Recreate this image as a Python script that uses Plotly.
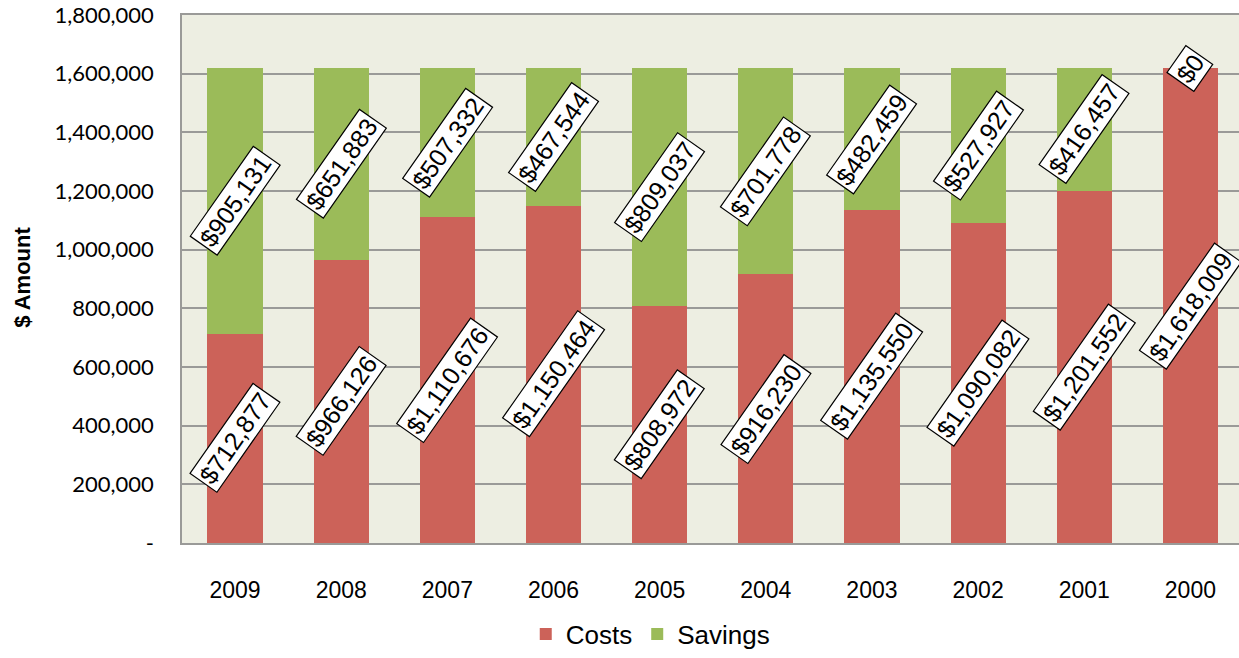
import plotly.graph_objects as go

# Yearly cost / savings split (USD)
years = ["2009", "2008", "2007", "2006", "2005", "2004", "2003", "2002", "2001", "2000"]
costs = [712877, 966126, 1110676, 1150464, 808972, 916230, 1135550, 1090082, 1201552, 1618009]
savings = [905131, 651883, 507332, 467544, 809037, 701778, 482459, 527927, 416457, 0]

y_tick_vals = [0, 200000, 400000, 600000, 800000, 1000000, 1200000, 1400000, 1600000, 1800000]
y_tick_text = ["-", "200,000", "400,000", "600,000", "800,000", "1,000,000",
               "1,200,000", "1,400,000", "1,600,000", "1,800,000"]

COST_COLOR = "#CC6259"
SAVE_COLOR = "#9BBB59"
GRID = "#9a9a98"
LABEL_FONT = dict(family="Liberation Sans, Arial, sans-serif", size=25, color="#000000")

fig = go.Figure()
fig.add_trace(go.Bar(x=years, y=costs, name="Costs", marker=dict(color=COST_COLOR, line=dict(width=0)),
                     width=0.52, hoverinfo="x+y"))
fig.add_trace(go.Bar(x=years, y=savings, name="Savings", marker=dict(color=SAVE_COLOR, line=dict(width=0)),
                     width=0.52, hoverinfo="x+y"))

# Boxed, slanted value labels centred on each stacked segment
# (category axis: annotations are placed by category index)
annotations = []
for i, (c, s) in enumerate(zip(costs, savings)):
    for val, mid in ((c, c / 2), (s, c + s / 2)):
        annotations.append(dict(
            x=i, y=mid, xref="x", yref="y", text=f"${val:,}", showarrow=False,
            textangle=-55, font=LABEL_FONT, bgcolor="#ffffff",
            bordercolor="#000000", borderwidth=1.2, borderpad=2,
            xanchor="center", yanchor="middle",
        ))

annotations.append(dict(
    x=-0.151, y=0.503, xref="paper", yref="paper", text="<b>$ Amount</b>", showarrow=False,
    textangle=-90, font=dict(family="Liberation Sans, Arial, sans-serif", size=22, color="#000000"),
    xanchor="center", yanchor="middle",
))

fig.update_layout(
    width=1239, height=658, autosize=False,
    margin=dict(l=182, r=0, t=15, b=110, pad=0),
    barmode="stack", bargap=0.48,
    paper_bgcolor="#ffffff", plot_bgcolor="#EDEEE2",
    annotations=annotations,
    showlegend=True,
    legend=dict(orientation="h", x=0.443, y=-0.1726, xanchor="center", yanchor="middle",
                font=dict(family="Liberation Sans, Arial, sans-serif", size=26, color="#000000"),
                itemwidth=30, traceorder="normal", bgcolor="rgba(0,0,0,0)"),
    xaxis=dict(type="category", range=[-0.5, 9.458], showgrid=False,
               showline=True, linecolor=GRID, linewidth=1.5, mirror=True,
               ticks="outside", ticklen=26, tickcolor="rgba(0,0,0,0)",
               tickfont=dict(family="Liberation Sans, Arial, sans-serif", size=23, color="#000000")),
    yaxis=dict(range=[0, 1800000], tickvals=y_tick_vals, ticktext=y_tick_text,
               showgrid=True, gridcolor=GRID, gridwidth=1.5, zeroline=False,
               showline=True, linecolor=GRID, linewidth=1.5,
               ticks="outside", ticklen=22, tickcolor="rgba(0,0,0,0)",
               tickfont=dict(family="Lato, Open Sans, sans-serif", size=22, color="#000000")),
)

fig.write_html("out.html")
